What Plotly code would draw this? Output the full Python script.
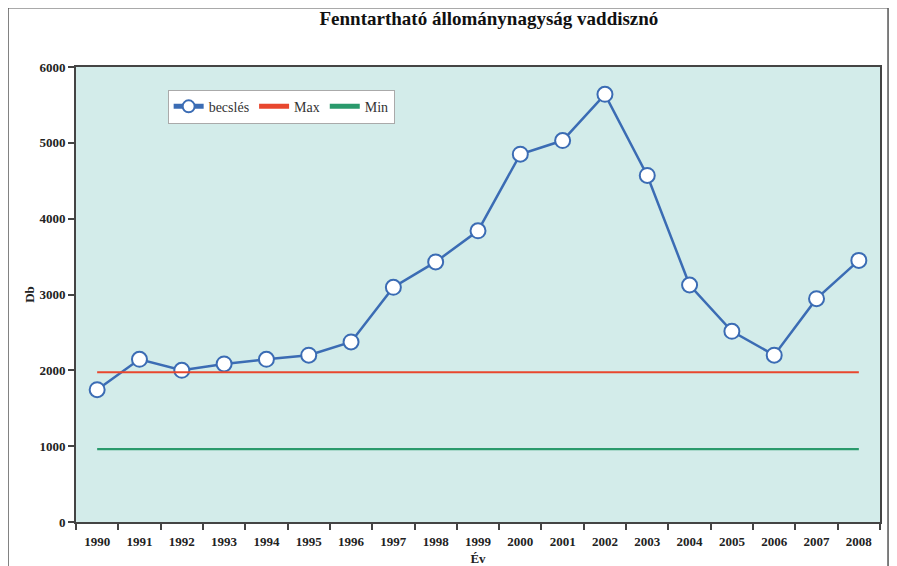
import plotly.graph_objects as go

years = ["1990", "1991", "1992", "1993", "1994", "1995", "1996", "1997", "1998", "1999",
         "2000", "2001", "2002", "2003", "2004", "2005", "2006", "2007", "2008"]
becsles = [1745, 2145, 2000, 2085, 2145, 2200, 2375, 3095, 3430, 3840,
           4850, 5030, 5640, 4570, 3125, 2515, 2200, 2945, 3450]
max_val = 1975
min_val = 960
max_series = [max_val] * len(years)
min_series = [min_val] * len(years)

FONT = "Liberation Serif, Times New Roman, serif"

fig = go.Figure()
fig.add_trace(go.Scatter(
    x=years, y=becsles, name="becslés", mode="lines+markers",
    line=dict(color="#3b6cb4", width=2.5),
    marker=dict(size=15, color="white", line=dict(color="#3b6cb4", width=2)),
))
fig.add_trace(go.Scatter(
    x=years, y=max_series, name="Max", mode="lines",
    line=dict(color="#e8472e", width=2.2),
))
fig.add_trace(go.Scatter(
    x=years, y=min_series, name="Min", mode="lines",
    line=dict(color="#2a9a6c", width=2.2),
))

fig.update_layout(
    width=889, height=558,
    margin=dict(l=68, r=17, t=59, b=44),
    paper_bgcolor="white",
    plot_bgcolor="#d3ecea",
    font=dict(family=FONT, color="#222222"),
    title=dict(text="<b>Fenntartható állománynagyság vaddisznó</b>",
               x=0.541, xanchor="center", y=0.981, yanchor="middle",
               font=dict(size=19, family=FONT, color="#111111")),
    showlegend=True,
    legend=dict(orientation="h", x=0.114, y=0.95, xanchor="left", yanchor="top",
                bgcolor="white", bordercolor="#aaaaaa", borderwidth=1,
                itemsizing="constant",
                font=dict(size=14, family=FONT, color="#333333"),
                itemwidth=30, tracegroupgap=0),
    xaxis=dict(type="category", tickson="boundaries", ticks="outside", ticklen=6,
               tickwidth=2, tickcolor="#444444",
               showline=True, linecolor="#444444", linewidth=2, mirror=True,
               showgrid=False, zeroline=False, automargin=False,
               ticklabelstandoff=6,
               tickfont=dict(size=13, family=FONT, color="#222222", weight="bold"),
               title=dict(text="<b>Év</b>", font=dict(size=13, family=FONT), standoff=16),
               range=[-0.5, 18.5]),
    yaxis=dict(range=[0, 6000], tickvals=[0, 1000, 2000, 3000, 4000, 5000, 6000],
               ticks="outside", ticklen=6, tickwidth=2, tickcolor="#444444",
               showline=True, linecolor="#444444", linewidth=2, mirror=True,
               showgrid=False, zeroline=False, automargin=False,
               tickfont=dict(size=13, family=FONT, color="#222222", weight="bold"),
               title=dict(text="<b>Db</b>", font=dict(size=13, family=FONT), standoff=2)),
    shapes=[dict(type="rect", xref="paper", yref="paper",
                 x0=-0.0846, x1=1.01, y0=-0.12, y1=1.13,
                 line=dict(color="#555555", width=1.5), fillcolor="rgba(0,0,0,0)",
                 layer="below")],
)

fig.write_html("out.html")
